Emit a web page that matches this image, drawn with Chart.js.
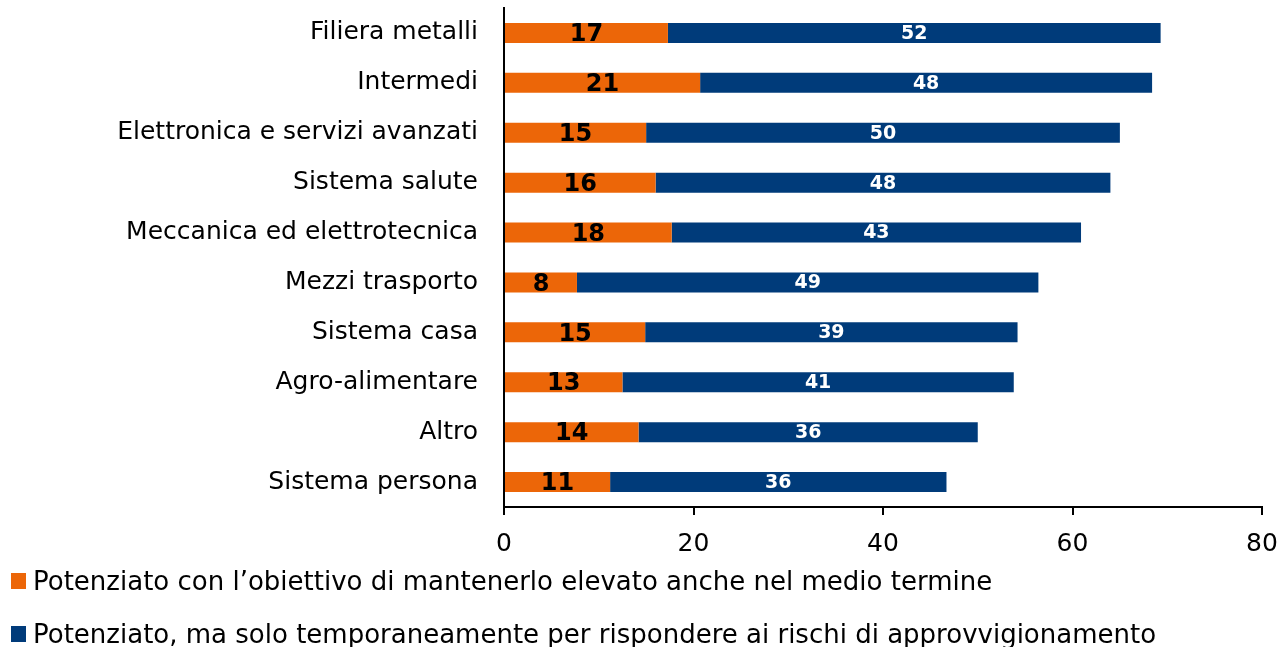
<!DOCTYPE html>
<html><head><meta charset="utf-8">
<script src="https://cdn.jsdelivr.net/npm/chart.js@4"></script>
<style>
body{margin:0;background:#fff}
#wrap{position:relative;width:1282px;height:647px;overflow:hidden}
.leg{position:absolute;left:11px;height:30px;font:26px 'DejaVu Sans';color:#000;display:flex;align-items:center;white-space:nowrap}
.leg .b{display:inline-block;width:15px;height:16px;margin-right:7px}
</style>
</head><body>
<div id="wrap"><canvas id="c" width="1282" height="647"></canvas></div>
<script>
const categories = ["Filiera metalli","Intermedi","Elettronica e servizi avanzati","Sistema salute","Meccanica ed elettrotecnica","Mezzi trasporto","Sistema casa","Agro-alimentare","Altro","Sistema persona"];
const seriesNames = ["Potenziato con l\u2019obiettivo di mantenerlo elevato anche nel medio termine","Potenziato, ma solo temporaneamente per rispondere ai rischi di approvvigionamento"];
const valuesOrange = [17.3,20.7,15.0,16.0,17.7,7.7,14.9,12.5,14.2,11.2];
const valuesBlue = [52.0,47.7,50.0,48.0,43.2,48.7,39.3,41.3,35.8,35.5];
const xTicks = [0,20,40,60,80];
const colors = ["#EC6608","#003B7A"];

const FONT = "'DejaVu Sans'";

const labelPlugin = {
  id:'barLabels',
  afterDatasetsDraw(chart){
    const ctx = chart.ctx;
    chart.data.datasets.forEach((ds,di)=>{
      const meta = chart.getDatasetMeta(di);
      meta.data.forEach((el,i)=>{
        const x = (el.x + el.base)/2;
        ctx.save();
        ctx.textAlign='center';
        ctx.textBaseline='middle';
        if(di===0){ctx.fillStyle='#000';ctx.font="bold 24px "+FONT;ctx.fillText(String(Math.round(ds.data[i])),x,el.y+2);}
        else{ctx.fillStyle='#fff';ctx.font="bold 19px "+FONT;ctx.fillText(String(Math.round(ds.data[i])),x,el.y+1);}
        ctx.restore();
      });
    });
  }
};

function noPad(s){s.paddingTop=0;s.paddingBottom=0;}

const chart = new Chart(document.getElementById('c'),{
  type:'bar',
  data:{labels:categories,datasets:[
    {label:seriesNames[0],data:valuesOrange,backgroundColor:colors[0],barPercentage:0.4,categoryPercentage:1},
    {label:seriesNames[1],data:valuesBlue,backgroundColor:colors[1],barPercentage:0.4,categoryPercentage:1}
  ]},
  options:{
    indexAxis:'y',responsive:false,animation:false,
    layout:{padding:{top:8,right:20,bottom:90,left:0}},
    plugins:{legend:{display:false},tooltip:{enabled:false}},
    scales:{
      x:{stacked:true,min:0,max:80,
        afterBuildTicks(s){s.ticks=xTicks.map(v=>({value:v}));},
        afterFit(s){s.height=50;s.paddingLeft=0;s.paddingRight=0;},
        grid:{display:true,drawOnChartArea:false,drawTicks:true,tickLength:8,color:'#000',lineWidth:2},
        border:{display:true,color:'#000',width:2},
        ticks:{color:'#000',font:{family:FONT,size:25},padding:14,maxRotation:0}
      },
      y:{stacked:true,
        afterFit(s){s.width=504;noPad(s);},
        grid:{display:false},
        border:{display:true,color:'#000',width:2},
        ticks:{color:'#000',font:{family:FONT,size:25},padding:18}
      }
    }
  },
  plugins:[labelPlugin]
});

const wrap=document.getElementById('wrap');
const tops=[566,619];
chart.data.datasets.forEach((ds,i)=>{
  const d=document.createElement('div');d.className='leg';d.style.top=tops[i]+'px';
  const b=document.createElement('span');b.className='b';b.style.background=ds.backgroundColor;
  const t=document.createElement('span');t.textContent=ds.label;
  d.appendChild(b);d.appendChild(t);wrap.appendChild(d);
});
</script>
</body></html>
